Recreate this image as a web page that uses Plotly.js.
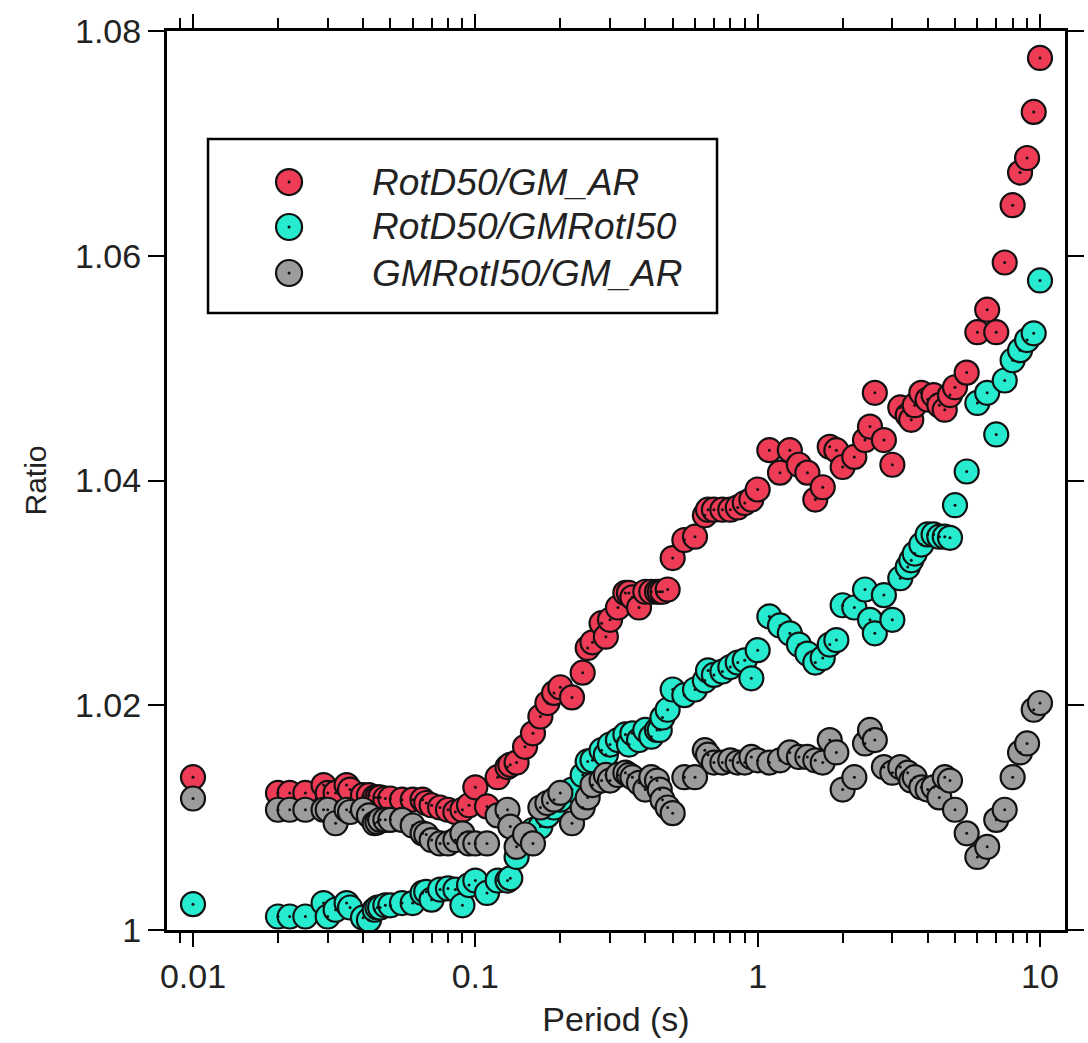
<!DOCTYPE html>
<html>
<head>
<meta charset="utf-8">
<script src="https://cdn.plot.ly/plotly-3.0.1.min.js"></script>
<style>html,body{margin:0;padding:0;background:#fff;}#chart{width:1088px;height:1043px;}</style>
</head>
<body>
<div id="chart"></div>
<script>
// Periods (s)
const periods = [0.01,0.02,0.022,0.025,0.029,0.03,0.032,0.035,0.036,0.04,0.042,0.044,0.045,0.046,0.048,0.05,0.055,0.06,0.065,0.067,0.07,0.075,0.08,0.085,0.09,0.095,
  0.1,0.11,0.12,0.13,0.133,0.14,0.15,0.16,0.17,0.18,0.19,0.2,0.22,0.24,0.25,0.26,0.28,0.29,0.3,0.32,0.34,0.35,0.36,0.38,0.4,0.42,0.44,0.45,0.46,0.48,0.5,
  0.55,0.6,0.65,0.667,0.7,0.75,0.8,0.85,0.9,0.95,1,1.1,1.2,1.3,1.4,1.5,1.6,1.7,1.8,1.9,2,2.2,2.4,2.5,2.6,2.8,3,3.2,3.4,3.5,3.6,3.8,4,4.2,4.4,4.6,4.8,5,
  5.5,6,6.5,7,7.5,8,8.5,9,9.5,10];

// RotD50/GM_AR
const rotd50_gmar = [1.0136,1.0122,1.0122,1.0122,1.0129,1.0122,1.0122,1.0129,1.0125,1.0120,1.0120,1.0118,1.0118,1.0118,1.0117,1.0117,1.0116,1.0116,1.0116,1.0113,1.0111,1.0109,1.0107,1.0105,1.0107,1.0111,
  1.0127,1.0110,1.0136,1.0145,1.0147,1.0149,1.0163,1.0175,1.0190,1.0202,1.0211,1.0216,1.0207,1.0229,1.0251,1.0256,1.0273,1.0261,1.0276,1.0287,1.0300,1.0300,1.0296,1.0287,1.0301,1.0301,1.0301,1.0301,1.0301,1.0303,1.0331,
  1.0347,1.0350,1.0369,1.0374,1.0374,1.0374,1.0374,1.0376,1.0380,1.0383,1.0392,1.0427,1.0407,1.0427,1.0414,1.0407,1.0383,1.0394,1.0430,1.0427,1.0412,1.0421,1.0436,1.0448,1.0478,1.0436,1.0414,1.0465,1.0458,1.0454,1.0467,1.0478,1.0472,1.0476,1.0467,1.0463,1.0476,1.0483,
  1.0496,1.0532,1.0552,1.0532,1.0594,1.0645,1.0674,1.0687,1.0728,1.0776];

// RotD50/GMRotI50
const rotd50_gmroti50 = [1.0023,1.0012,1.0012,1.0012,1.0024,1.0012,1.0018,1.0024,1.0020,1.0011,1.0009,1.0018,1.0020,1.0020,1.0022,1.0022,1.0024,1.0024,1.0033,1.0034,1.0027,1.0036,1.0037,1.0036,1.0022,1.0040,
  1.0044,1.0033,1.0044,1.0044,1.0046,1.0065,1.0080,1.0089,1.0092,1.0102,1.0109,1.0116,1.0125,1.0138,1.0150,1.0151,1.0160,1.0156,1.0165,1.0169,1.0174,1.0165,1.0175,1.0169,1.0178,1.0172,1.0178,1.0178,1.0189,1.0196,1.0214,
  1.0209,1.0214,1.0222,1.0231,1.0227,1.0230,1.0234,1.0238,1.0240,1.0224,1.0249,1.0279,1.0271,1.0264,1.0254,1.0246,1.0238,1.0242,1.0254,1.0258,1.0289,1.0287,1.0303,1.0276,1.0264,1.0298,1.0276,1.0313,1.0323,1.0329,1.0335,1.0343,1.0352,1.0352,1.0350,1.0350,1.0349,1.0378,
  1.0408,1.0469,1.0478,1.0441,1.0489,1.0507,1.0516,1.0525,1.0531,1.0578];

// GMRotI50/GM_AR
const gmroti50_gmar = [1.0117,1.0107,1.0107,1.0107,1.0107,1.0107,1.0095,1.0107,1.0105,1.0107,1.0102,1.0095,1.0096,1.0098,1.0098,1.0098,1.0098,1.0093,1.0086,1.0085,1.0080,1.0077,1.0077,1.0080,1.0086,1.0077,
  1.0077,1.0077,1.0102,1.0107,1.0092,1.0074,1.0085,1.0077,1.0109,1.0113,1.0116,1.0122,1.0095,1.0109,1.0118,1.0129,1.0133,1.0138,1.0133,1.0138,1.0140,1.0138,1.0136,1.0131,1.0125,1.0136,1.0133,1.0125,1.0116,1.0109,1.0104,
  1.0136,1.0136,1.0160,1.0156,1.0149,1.0149,1.0151,1.0149,1.0149,1.0154,1.0151,1.0149,1.0151,1.0158,1.0154,1.0154,1.0151,1.0149,1.0169,1.0158,1.0125,1.0136,1.0166,1.0178,1.0169,1.0145,1.0140,1.0145,1.0140,1.0133,1.0136,1.0127,1.0125,1.0127,1.0118,1.0136,1.0133,1.0107,
  1.0086,1.0065,1.0074,1.0098,1.0107,1.0136,1.0158,1.0166,1.0196,1.0202];

const seriesNames = ["RotD50/GM_AR", "RotD50/GMRotI50", "GMRotI50/GM_AR"];
const seriesColors = ["#EE3B56", "#26EBCF", "#9C9C9C"];
const xTickVals = [0.01, 0.1, 1, 10];
const xTickText = ["0.01", "0.1", "1", "10"];
const yTickVals = [1, 1.02, 1.04, 1.06, 1.08];
const yTickText = ["1", "1.02", "1.04", "1.06", "1.08"];

const seriesData = [rotd50_gmar, rotd50_gmroti50, gmroti50_gmar];
const traces = [];
seriesData.forEach((ys, i) => {
  traces.push({
    x: periods, y: ys, type: 'scatter', mode: 'markers', name: seriesNames[i],
    marker: {size: 24, color: seriesColors[i], line: {color: '#111', width: 2.2}},
    hoverinfo: 'x+y+name'
  });
  traces.push({
    x: periods, y: ys, type: 'scatter', mode: 'markers', showlegend: false, hoverinfo: 'skip',
    marker: {size: 3, color: '#111', line: {width: 0}}
  });
});

// minor tick positions for log axis
const minorVals = [];
[0.001, 0.01, 0.1, 1, 10].forEach(d => { for (let k = 2; k <= 9; k++) minorVals.push(+(k * d).toPrecision(3)); });

const FONT = '"Liberation Sans", Arial, sans-serif';

// manual legend (paper coordinates)
const legRows = [0.832, 0.782, 0.7308];
const mx = 0.1359, rw = 13 / 898, rh = 13 / 899;
const shapes = [{
  type: 'rect', xref: 'paper', yref: 'paper', x0: 0.0457, x1: 0.6125, y0: 0.6863, y1: 0.8799,
  line: {color: '#000', width: 2.5}, fillcolor: '#fff', layer: 'above'
}];
const annotations = [];
legRows.forEach((ry, i) => {
  shapes.push({type: 'circle', xref: 'paper', yref: 'paper', x0: mx - rw, x1: mx + rw, y0: ry - rh, y1: ry + rh,
    fillcolor: seriesColors[i], line: {color: '#111', width: 2.2}, layer: 'above'});
  shapes.push({type: 'circle', xref: 'paper', yref: 'paper', x0: mx - 1.5/898, x1: mx + 1.5/898, y0: ry - 1.5/899, y1: ry + 1.5/899,
    fillcolor: '#111', line: {width: 0}, layer: 'above'});
  annotations.push({xref: 'paper', yref: 'paper', x: 0.2261, y: ry, xanchor: 'left', yanchor: 'middle',
    text: '<i>' + seriesNames[i] + '</i>', showarrow: false, font: {family: FONT, size: 37, color: '#222'}});
});

const layout = {
  width: 1088, height: 1043,
  margin: {l: 167, r: 23, t: 31, b: 113},
  paper_bgcolor: '#fff', plot_bgcolor: '#fff',
  showlegend: false,
  font: {family: FONT, color: '#222'},
  xaxis: {
    type: 'log', range: [-2.0921, 1.0886],
    tickmode: 'array', tickvals: xTickVals, ticktext: xTickText,
    ticks: 'outside', ticklen: 14, tickwidth: 2, tickcolor: '#000',
    minor: {tickmode: 'array', tickvals: minorVals, ticks: 'outside', ticklen: 10, tickwidth: 2, tickcolor: '#000', showgrid: false},
    showline: true, linecolor: '#000', linewidth: 3, mirror: 'allticks',
    showgrid: false, zeroline: false,
    tickfont: {family: FONT, size: 34, color: '#222'},
    title: {text: 'Period (s)', font: {family: FONT, size: 34, color: '#222'}, standoff: 14}
  },
  yaxis: {
    range: [1, 1.08],
    tickmode: 'array', tickvals: yTickVals, ticktext: yTickText,
    ticks: 'outside', ticklen: 16, tickwidth: 2, tickcolor: '#000',
    showline: true, linecolor: '#000', linewidth: 3, mirror: 'allticks',
    showgrid: false, zeroline: false,
    tickfont: {family: FONT, size: 34, color: '#222'},
    title: {text: 'Ratio', font: {family: FONT, size: 30, color: '#222'}, standoff: 20}
  },
  shapes: shapes,
  annotations: annotations
};

Plotly.newPlot('chart', traces, layout, {displayModeBar: false, staticPlot: true});
</script>
</body>
</html>
